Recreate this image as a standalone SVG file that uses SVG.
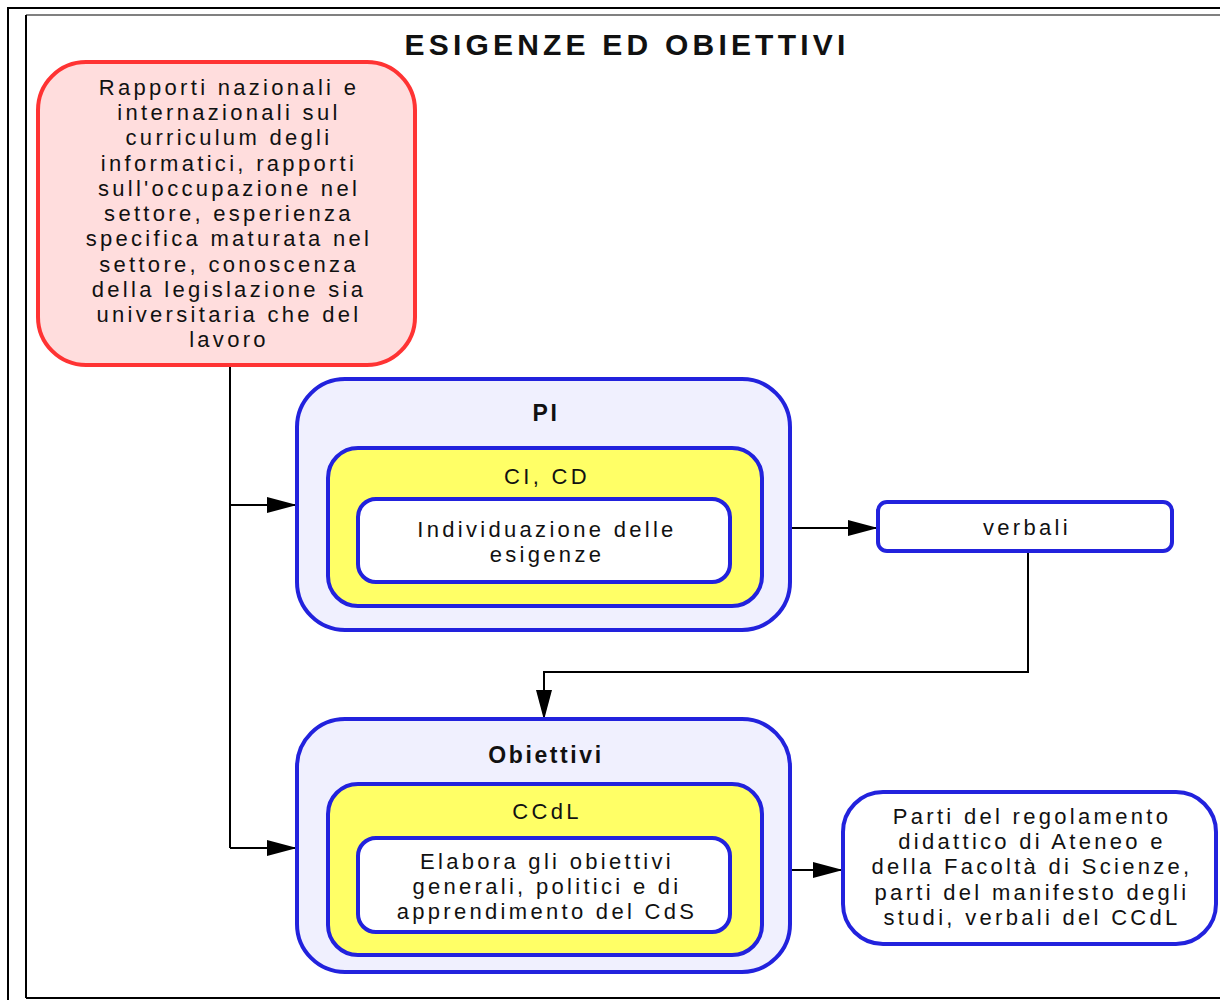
<svg xmlns="http://www.w3.org/2000/svg" width="1220" height="1000" viewBox="0 0 1220 1000">
<style>
text{font-family:"Liberation Sans",Arial,sans-serif;fill:#111;text-anchor:middle}
.t{font-size:22px;letter-spacing:3.3px}
.b{font-weight:bold;font-size:23px;letter-spacing:2.6px}
.outer{fill:#f0f0fe;stroke:#2222dd;stroke-width:4}
.yel{fill:#ffff66;stroke:#2222dd;stroke-width:4}
.wht{fill:#fff;stroke:#2222dd;stroke-width:4}
.c{fill:none;stroke:#000;stroke-width:2}
</style>
<defs>
<marker id="ah" viewBox="0 0 30 16" refX="30" refY="8" markerWidth="30" markerHeight="16" markerUnits="userSpaceOnUse" orient="auto">
<path d="M0,0 L30,8 L0,16 z" fill="#000"/>
</marker>
</defs>
<rect width="1220" height="1000" fill="#fff"/>
<g id="frame">
<path d="M8,1000 V8 H1220" fill="none" stroke="#000" stroke-width="2"/>
<path d="M26,15 H1220" fill="none" stroke="#808080" stroke-width="2"/>
<path d="M26,998 H1220 M26,15 V998" fill="none" stroke="#000" stroke-width="2"/>
</g>
<text x="627" y="55" style="font-size:30px;font-weight:bold;letter-spacing:4.2px">ESIGENZE ED OBIETTIVI</text>
<g id="connectors">
<path class="c" d="M230,365 V848"/>
<path class="c" d="M230,505 H297" marker-end="url(#ah)"/>
<path class="c" d="M230,848 H297" marker-end="url(#ah)"/>
<path class="c" d="M760,528 H878" marker-end="url(#ah)"/>
<path class="c" d="M1028,551 V672 H544 V720" marker-end="url(#ah)"/>
<path class="c" d="M760,870 H843" marker-end="url(#ah)"/>
</g>
<g id="fonti">
<rect x="38" y="62" width="377" height="303" rx="48" fill="#ffdddd" stroke="#ff3333" stroke-width="4"/>
<text class="t" x="229"><tspan x="229" y="95">Rapporti nazionali e</tspan><tspan x="229" y="120">internazionali sul</tspan><tspan x="229" y="145">curriculum degli</tspan><tspan x="229" y="171">informatici, rapporti</tspan><tspan x="229" y="196">sull'occupazione nel</tspan><tspan x="229" y="221">settore, esperienza</tspan><tspan x="229" y="246">specifica maturata nel</tspan><tspan x="229" y="272">settore, conoscenza</tspan><tspan x="229" y="297">della legislazione sia</tspan><tspan x="229" y="322">universitaria che del</tspan><tspan x="229" y="347">lavoro</tspan></text>
</g>
<g id="pi">
<rect class="outer" x="297" y="379" width="493" height="251" rx="48"/>
<text class="b" x="546" y="421">PI</text>
<rect class="yel" x="328" y="448" width="434" height="158" rx="30"/>
<text class="t" x="547" y="484">CI, CD</text>
<rect class="wht" x="358" y="499" width="372" height="83" rx="18"/>
<text class="t" x="547"><tspan x="547" y="537">Individuazione delle</tspan><tspan x="547" y="562">esigenze</tspan></text>
</g>
<g id="verbali">
<rect class="wht" x="878" y="502" width="294" height="49" rx="9"/>
<text class="t" x="1027" y="535">verbali</text>
</g>
<g id="obiettivi">
<rect class="outer" x="297" y="719" width="493" height="253" rx="48"/>
<text class="b" x="546" y="763">Obiettivi</text>
<rect class="yel" x="328" y="784" width="434" height="171" rx="30"/>
<text class="t" x="547" y="819">CCdL</text>
<rect class="wht" x="358" y="838" width="372" height="94" rx="18"/>
<text class="t" x="547"><tspan x="547" y="869">Elabora gli obiettivi</tspan><tspan x="547" y="894">generali, politici e di</tspan><tspan x="547" y="919">apprendimento del CdS</tspan></text>
</g>
<g id="documenti">
<rect class="wht" x="843" y="792" width="373" height="152" rx="40"/>
<text class="t" x="1032"><tspan x="1032" y="824">Parti del regolamento</tspan><tspan x="1032" y="849">didattico di Ateneo e</tspan><tspan x="1032" y="874">della Facoltà di Scienze,</tspan><tspan x="1032" y="900">parti del manifesto degli</tspan><tspan x="1032" y="925">studi, verbali del CCdL</tspan></text>
</g>
</svg>
